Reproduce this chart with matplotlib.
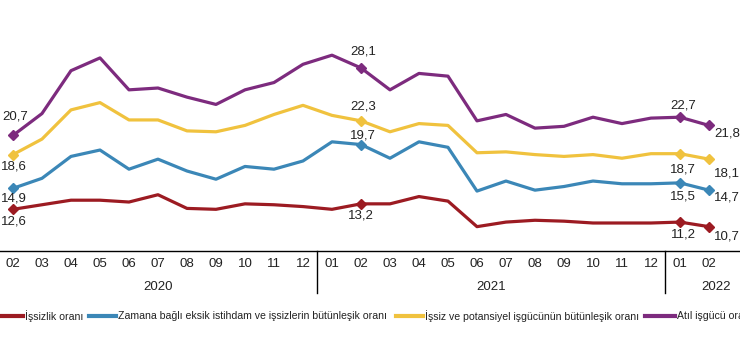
import matplotlib
matplotlib.use("Agg")
import matplotlib.pyplot as plt
from matplotlib.lines import Line2D

plt.rcParams['font.family'] = ['Liberation Sans', 'DejaVu Sans']

# months 2020-02 .. 2022-02
months = ['02', '03', '04', '05', '06', '07', '08', '09', '10', '11', '12',
          '01', '02', '03', '04', '05', '06', '07', '08', '09', '10', '11', '12',
          '01', '02']
years = ['2020', '2021', '2022']

issizlik = [12.6, 13.1, 13.6, 13.6, 13.4, 14.2, 12.7, 12.6, 13.2, 13.1, 12.9,
            12.6, 13.2, 13.2, 14.0, 13.5, 10.7, 11.2, 11.4, 11.3, 11.1, 11.1, 11.1,
            11.2, 10.7]
zamana = [14.9, 16.0, 18.4, 19.1, 17.0, 18.1, 16.8, 15.9, 17.3, 17.0, 17.9,
          20.0, 19.7, 18.2, 20.0, 19.4, 14.6, 15.7, 14.7, 15.1, 15.7, 15.4, 15.4,
          15.5, 14.7]
potansiyel = [18.6, 20.3, 23.5, 24.3, 22.4, 22.4, 21.2, 21.1, 21.8, 23.0, 24.0,
              22.9, 22.3, 21.1, 22.0, 21.8, 18.8, 18.9, 18.6, 18.4, 18.6, 18.2, 18.7,
              18.7, 18.1]
atil = [20.7, 23.1, 27.8, 29.2, 25.7, 25.9, 24.9, 24.1, 25.7, 26.5, 28.5,
        29.5, 28.1, 25.7, 27.5, 27.2, 22.3, 23.0, 21.5, 21.7, 22.7, 22.0, 22.6,
        22.7, 21.8]

names = ['İşsizlik oranı',
         'Zamana bağlı eksik istihdam ve işsizlerin bütünleşik oranı',
         'İşsiz ve potansiyel işgücünün bütünleşik oranı',
         'Atıl işgücü oranı']
colors = ['#9c1b22', '#3b87b7', '#f0c23e', '#7d2b7e']
series = [issizlik, zamana, potansiyel, atil]

marked = [0, 12, 23, 24]   # points with a diamond and a value label
# label offsets in pixels (dx, dy) per series, per marked point
offs = [
    [(1, -12), (0, -12), (3, -12), (18, -10)],
    [(1, -10), (2, 9), (3, -14), (18, -7)],
    [(1, -12), (2, 14), (3, -16), (18, -14)],
    [(2, 19), (2, 16), (3, 12), (18, -8)],
]

fig = plt.figure(figsize=(7.4, 3.47), dpi=100)
ax = fig.add_axes([0, 96 / 347, 1, 251 / 347])

x = list(range(len(months)))
for vals, c, o in zip(series, colors, offs):
    ax.plot(x, vals, color=c, lw=2.3, solid_joinstyle='round')
    ax.plot(marked, [vals[i] for i in marked], ls='none', marker='D', ms=5,
            color=c)
    for i, (dx, dy) in zip(marked, o):
        ax.annotate(f"{vals[i]:.1f}".replace('.', ','), (i, vals[i]),
                    xytext=(dx * 0.72, dy * 0.72), textcoords='offset points',
                    ha='center', va='center', fontsize=9.5, color='#222222')

ax.set_xlim(-0.448, 25.07)
ax.set_ylim(8.03, 35.55)
ax.set_yticks([])
for s in ['top', 'left', 'right']:
    ax.spines[s].set_visible(False)
ax.spines['bottom'].set_color('black')
ax.spines['bottom'].set_linewidth(1)

ax.set_xticks(x)
ax.set_xticklabels(months, fontsize=9.5, color='#222222')
ax.tick_params(axis='x', length=0, pad=5)

# year separators and year labels
tr = ax.get_xaxis_transform()
for sx in [10.5, 22.5]:
    ax.plot([sx, sx], [0, -0.167], color='black', lw=1, transform=tr,
            clip_on=False)
for yl, cx in zip(years, [5, 16.5, 24.25]):
    ax.text(cx, -0.143, yl, transform=tr, ha='center', va='center',
            fontsize=9.5, color='#222222')

# legend drawn by hand, running off both edges like the original
leg_y = 1 - 316 / 347
handles = [(0, 23), (89, 116), (396, 423), (645, 675)]
for (x0, x1), c, n in zip(handles, colors, names):
    fig.add_artist(Line2D([x0 / 740, x1 / 740], [leg_y, leg_y], color=c,
                          lw=3, transform=fig.transFigure))
    fig.text((x1 + 2) / 740, leg_y, n, ha='left', va='center', fontsize=7.6,
             color='#222222')

fig.savefig('out.png', dpi=100)
